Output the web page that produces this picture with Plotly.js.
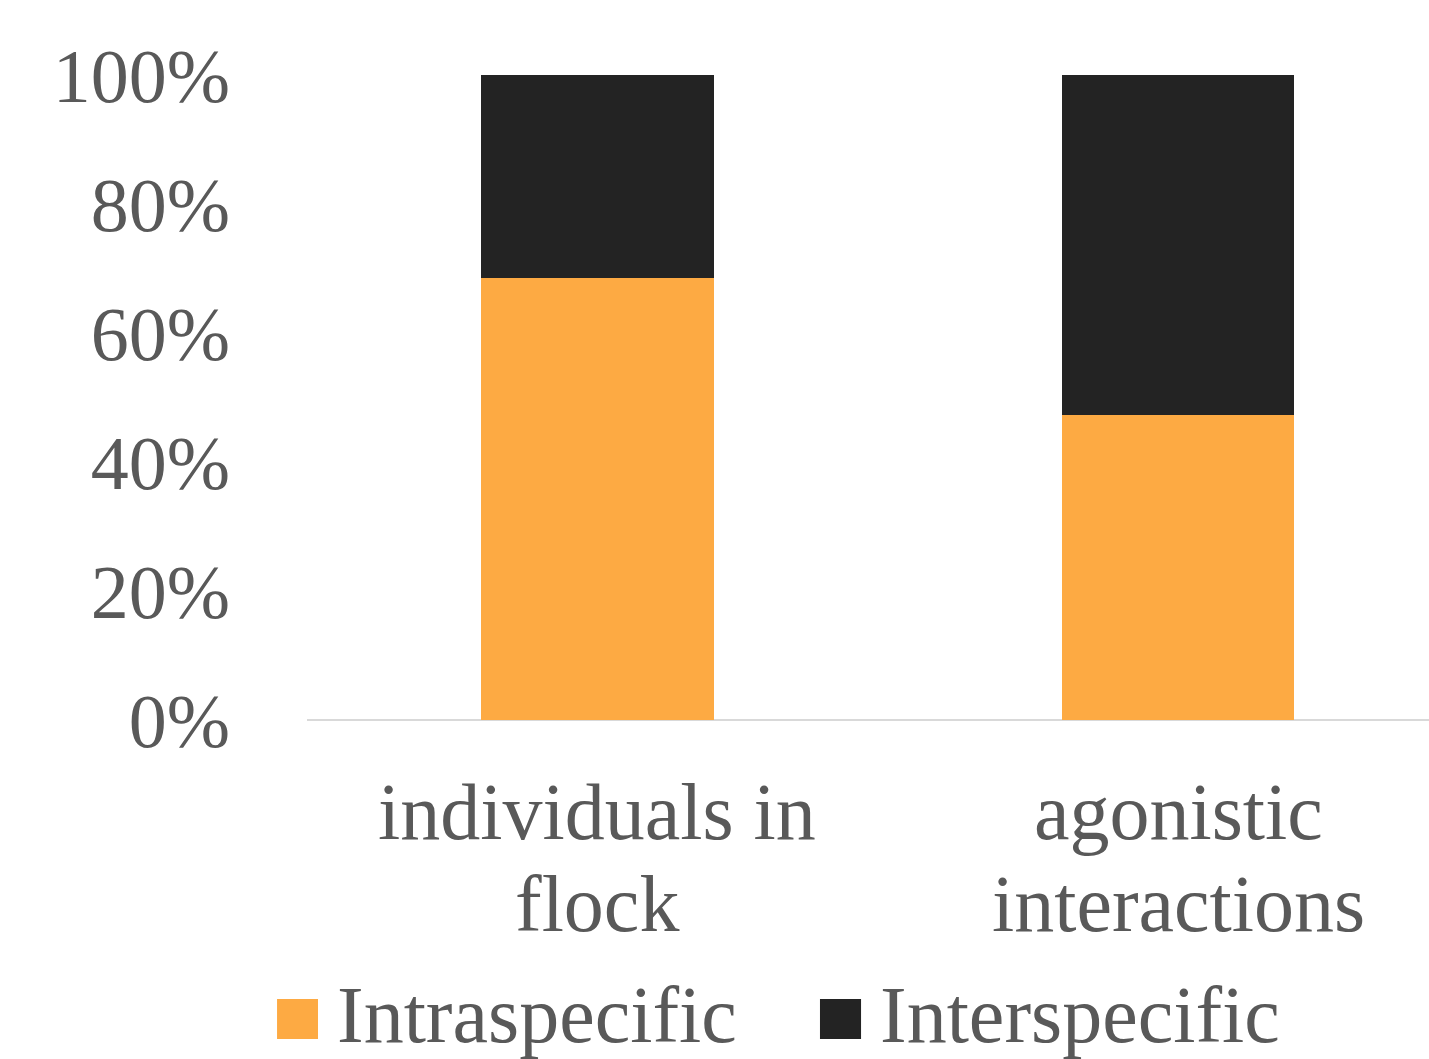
<!DOCTYPE html>
<html>
<head>
<meta charset="utf-8">
<script src="https://cdn.plot.ly/plotly-3.0.1.min.js"></script>
<style>
  html, body { margin: 0; padding: 0; background: #ffffff; }
  #chart { width: 1429px; height: 1059px; }
</style>
</head>
<body>
<div id="chart"></div>
<script>
// Share of each category that is intra- vs interspecific (percent)
const categories = ["individuals in flock", "agonistic interactions"];
const categoryLines = [["individuals in", "flock"], ["agonistic", "interactions"]];
const intraspecific = [68.5, 47.3];
const interspecific = [31.5, 52.7];
const seriesNames = ["Intraspecific", "Interspecific"];
const yTickValues = [0, 20, 40, 60, 80, 100];

const ORANGE = "#FDAA43";
const DARK = "#232323";
const TEXT = "#595959";
const FONT = "Liberation Serif";

const traces = [
  {
    type: "bar",
    name: seriesNames[0],
    x: [0, 1],
    y: intraspecific,
    width: 0.4,
    marker: { color: ORANGE, line: { width: 0 } },
    hoverinfo: "skip",
    showlegend: false
  },
  {
    type: "bar",
    name: seriesNames[1],
    x: [0, 1],
    y: interspecific,
    width: 0.4,
    marker: { color: DARK, line: { width: 0 } },
    hoverinfo: "skip",
    showlegend: false
  }
];

// Two-line category labels under each bar
const annotations = [];
const lineY = [-0.142, -0.285];
categoryLines.forEach((lines, i) => {
  lines.forEach((txt, j) => {
    annotations.push({
      xref: "x", yref: "paper", x: i, y: lineY[j],
      text: txt, showarrow: false,
      xanchor: "center", yanchor: "middle",
      font: { family: FONT, size: 80, color: TEXT }
    });
  });
});

// Legend: colour swatch followed by the series name
const legendSwatchX = [[-0.0267, 0.0098], [0.4572, 0.4938]];
const legendTextX = [0.025, 0.509];
const legendColors = [ORANGE, DARK];
const shapes = [];
seriesNames.forEach((name, i) => {
  shapes.push({
    type: "rect", xref: "paper", yref: "paper",
    x0: legendSwatchX[i][0], x1: legendSwatchX[i][1],
    y0: -0.4946, y1: -0.4326,
    fillcolor: legendColors[i], line: { width: 0 }
  });
  annotations.push({
    xref: "paper", yref: "paper", x: legendTextX[i], y: -0.458,
    text: name, showarrow: false,
    xanchor: "left", yanchor: "middle",
    font: { family: FONT, size: 80, color: TEXT }
  });
});

const layout = {
  width: 1429,
  height: 1059,
  margin: { l: 307, r: 0, t: 75, b: 339, pad: 0 },
  paper_bgcolor: "#ffffff",
  plot_bgcolor: "#ffffff",
  barmode: "stack",
  showlegend: false,
  font: { family: FONT, color: TEXT },
  xaxis: {
    range: [-0.5, 1.432],
    showticklabels: false,
    showgrid: false,
    zeroline: false,
    showline: false,
    ticks: "",
    fixedrange: true
  },
  yaxis: {
    range: [0, 100],
    tickvals: yTickValues,
    ticktext: yTickValues.map(v => v + "%"),
    tickfont: { family: FONT, size: 76, color: TEXT },
    ticklabelstandoff: 76,
    showgrid: false,
    zeroline: true,
    zerolinecolor: "#D9D9D9",
    zerolinewidth: 2,
    showline: false,
    ticks: "",
    fixedrange: true
  },
  shapes: shapes,
  annotations: annotations
};

Plotly.newPlot("chart", traces, layout, { staticPlot: true, displayModeBar: false });
</script>
</body>
</html>
